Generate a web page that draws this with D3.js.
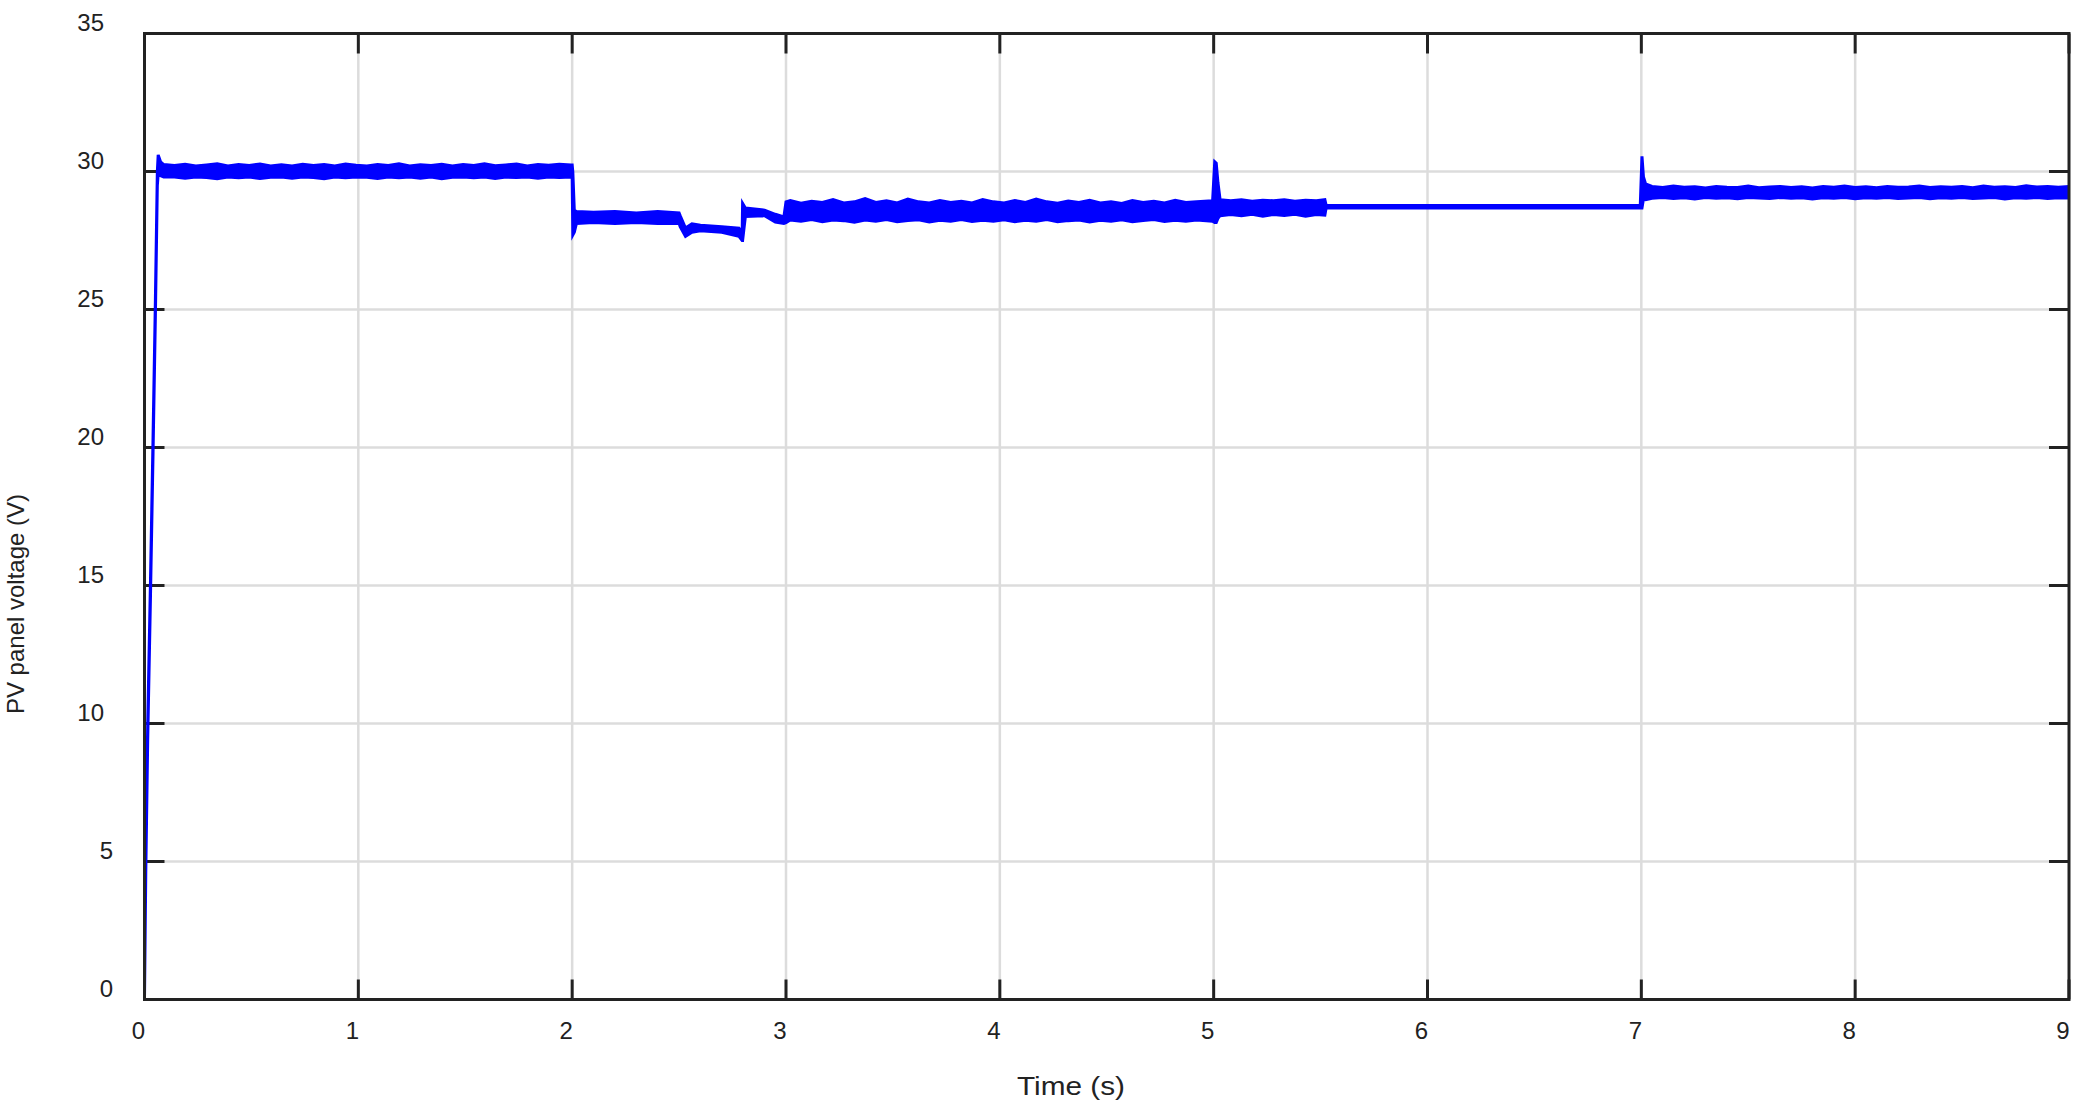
<!DOCTYPE html>
<html>
<head>
<meta charset="utf-8">
<script src="https://cdn.jsdelivr.net/npm/d3@7"></script>
<style>
  html, body { margin: 0; padding: 0; background: #fff; }
  svg { display: block; }
  text { font-family: "Liberation Sans", Arial, sans-serif; fill: #222; }
</style>
</head>
<body>
<svg id="chart" width="2086" height="1115"></svg>
<script>
// ---- data ----
const xTicks = [0, 1, 2, 3, 4, 5, 6, 7, 8, 9];
const yTicks = [0, 5, 10, 15, 20, 25, 30, 35];
const xTitle = "Time (s)";
const yTitle = "PV panel voltage (V)";

// time (s) and the upper / lower envelope of the noisy PV panel voltage trace (V)
const time = [
  0, 0.006, 0.015, 0.028, 0.040, 0.051, 0.060, 0.064, 0.075, 0.09,
  0.14, 0.19, 0.24, 0.29, 0.34, 0.39, 0.44, 0.49, 0.54, 0.59, 0.64, 0.69, 0.74, 0.79, 0.84, 0.89, 0.94, 0.99,
  1.04, 1.09, 1.14, 1.19, 1.24, 1.29, 1.34, 1.39, 1.44, 1.49, 1.54, 1.59, 1.64, 1.69, 1.74, 1.79, 1.84, 1.89, 1.94, 1.995,
  2.0, 2.003, 2.01, 2.02, 2.1, 2.2, 2.3, 2.4, 2.5,
  2.505, 2.53, 2.56, 2.6, 2.7, 2.78, 2.795,
  2.797, 2.81, 2.9, 2.95, 2.99,
  3.0, 3.02, 3.07, 3.12, 3.17, 3.22, 3.27, 3.32, 3.37, 3.42, 3.47, 3.52, 3.57, 3.62, 3.67, 3.72, 3.77, 3.82, 3.87, 3.92, 3.97,
  4.02, 4.07, 4.12, 4.17, 4.22, 4.27, 4.32, 4.37, 4.42, 4.47, 4.52, 4.57, 4.62, 4.67, 4.72, 4.77, 4.82, 4.87, 4.92, 4.995,
  5.005, 5.012, 5.02, 5.03, 5.08, 5.13, 5.18, 5.23, 5.28, 5.33, 5.38, 5.43, 5.48, 5.52,
  5.526, 6.0, 6.5, 6.995,
  7.003, 7.01, 7.02, 7.05, 7.1, 7.15, 7.2, 7.25, 7.3, 7.35, 7.4, 7.45, 7.5, 7.55, 7.6, 7.65, 7.7, 7.75, 7.8, 7.85,
  7.9, 7.95, 8.0, 8.05, 8.1, 8.15, 8.2, 8.25, 8.3, 8.35, 8.4, 8.45, 8.5, 8.55, 8.6, 8.65, 8.7, 8.75, 8.8, 8.85, 8.9, 8.95, 9.0
];
const upper = [
  0, 5.2, 10.0, 15.2, 20.4, 25.4, 30.0, 30.6, 30.35, 30.25,
  30.22, 30.26, 30.2, 30.24, 30.28, 30.2, 30.25, 30.22, 30.27, 30.2, 30.24, 30.2, 30.26, 30.22, 30.25, 30.2, 30.27, 30.23,
  30.2, 30.25, 30.22, 30.28, 30.2, 30.24, 30.22, 30.26, 30.2, 30.25, 30.22, 30.28, 30.21, 30.24, 30.27, 30.2, 30.25, 30.23, 30.26, 30.24,
  30.24, 30.0, 28.6, 28.55, 28.52, 28.55, 28.5, 28.55, 28.5,
  28.4, 27.95, 28.1, 28.05, 28.0, 27.95, 27.75,
  28.85, 28.68, 28.6, 28.45, 28.35,
  28.9, 28.95, 28.85, 28.92, 28.88, 28.98, 28.86, 28.9, 29.02, 28.88, 28.94, 28.86, 29.0, 28.9, 28.86, 28.95, 28.88, 28.92, 28.86, 28.98, 28.9,
  28.86, 28.95, 28.88, 29.0, 28.9, 28.85, 28.93, 28.88, 28.96, 28.86, 28.9, 28.84, 28.95, 28.88, 28.92, 28.86, 28.96, 28.88, 28.9, 28.94,
  30.35, 30.3, 29.6, 28.98, 28.94, 28.98, 28.92, 28.96, 28.94, 28.98, 28.92, 28.96, 28.94, 28.98,
  28.77, 28.77, 28.77, 28.77,
  30.55, 29.8, 29.55, 29.46, 29.42, 29.47, 29.43, 29.45, 29.4, 29.46, 29.43, 29.42, 29.47, 29.41, 29.44, 29.46, 29.42, 29.45, 29.4, 29.46,
  29.43, 29.47, 29.42, 29.45, 29.41, 29.46, 29.43, 29.44, 29.47, 29.42, 29.45, 29.43, 29.46, 29.41, 29.47, 29.43, 29.45, 29.42, 29.48, 29.44, 29.46, 29.43, 29.46
];
const lower = [
  0, 4.6, 9.4, 14.6, 19.8, 24.8, 29.5, 29.9, 29.85, 29.8,
  29.8, 29.76, 29.8, 29.78, 29.74, 29.8, 29.77, 29.8, 29.75, 29.79, 29.8, 29.76, 29.8, 29.78, 29.74, 29.8, 29.77, 29.8,
  29.79, 29.75, 29.8, 29.77, 29.8, 29.76, 29.8, 29.74, 29.79, 29.8, 29.77, 29.8, 29.75, 29.8, 29.78, 29.8, 29.76, 29.8, 29.78, 29.8,
  29.8, 27.7, 27.8, 28.12, 28.15, 28.12, 28.15, 28.12, 28.12,
  28.0, 27.65, 27.8, 27.85, 27.8, 27.65, 27.5,
  27.5, 28.37, 28.4, 28.17, 28.12,
  28.15, 28.24, 28.2, 28.26, 28.18, 28.24, 28.22, 28.16, 28.24, 28.2, 28.26, 28.18, 28.22, 28.25, 28.17, 28.23, 28.2, 28.26, 28.19, 28.23, 28.2,
  28.25, 28.18, 28.23, 28.2, 28.26, 28.18, 28.22, 28.24, 28.17, 28.23, 28.2, 28.25, 28.18, 28.22, 28.26, 28.19, 28.23, 28.2, 28.24, 28.2,
  28.15, 28.15, 28.3, 28.4, 28.44, 28.4, 28.45, 28.38, 28.44, 28.41, 28.45, 28.38, 28.44, 28.42,
  28.68, 28.68, 28.68, 28.68,
  28.68, 29.0, 28.98, 29.03, 29.06, 29.02, 29.05, 29.0, 29.06, 29.03, 29.05, 29.01, 29.06, 29.04, 29.02, 29.06, 29.03, 29.05, 29.0, 29.05,
  29.03, 29.06, 29.01, 29.05, 29.03, 29.06, 29.02, 29.04, 29.06, 29.01, 29.05, 29.03, 29.06, 29.02, 29.04, 29.06, 29.0, 29.05, 29.03, 29.06, 29.02, 29.05, 29.04
];

// ---- layout ----
const plot = { left: 144.5, right: 2069, top: 33.5, bottom: 999.5 };
const ink = "#222";
const lineBlue = "#0000ff";

const svg = d3.select("#chart");
const x = d3.scaleLinear().domain([0, 9]).range([plot.left, plot.right]);
const y = d3.scaleLinear().domain([0, 35]).range([plot.bottom, plot.top]);

// gridlines
const grid = svg.append("g").attr("stroke", "#dcdcdc").attr("stroke-width", 2.5);
grid.selectAll("line.gx").data(xTicks.filter(d => d > 0 && d < 9)).join("line")
  .attr("x1", d => x(d)).attr("x2", d => x(d))
  .attr("y1", plot.top).attr("y2", plot.bottom);
grid.selectAll("line.gy").data(yTicks.filter(d => d > 0 && d < 35)).join("line")
  .attr("y1", d => y(d)).attr("y2", d => y(d))
  .attr("x1", plot.left).attr("x2", plot.right);

// inward tick marks on all four sides
const tickLen = 20;
const ticks = svg.append("g").attr("stroke", ink).attr("stroke-width", 3);
xTicks.forEach(d => {
  ticks.append("line").attr("x1", x(d)).attr("x2", x(d)).attr("y1", plot.bottom).attr("y2", plot.bottom - tickLen);
  ticks.append("line").attr("x1", x(d)).attr("x2", x(d)).attr("y1", plot.top).attr("y2", plot.top + tickLen);
});
yTicks.forEach(d => {
  ticks.append("line").attr("y1", y(d)).attr("y2", y(d)).attr("x1", plot.left).attr("x2", plot.left + tickLen);
  ticks.append("line").attr("y1", y(d)).attr("y2", y(d)).attr("x1", plot.right).attr("x2", plot.right - tickLen);
});

// data trace (envelope band of the noisy signal)
svg.append("clipPath").attr("id", "clip").append("rect")
  .attr("x", plot.left).attr("y", plot.top)
  .attr("width", plot.right - plot.left).attr("height", plot.bottom - plot.top);

const pts = time.map((t, i) => ({ t, hi: upper[i], lo: lower[i] }));
const area = d3.area().x(d => x(d.t)).y0(d => y(d.lo)).y1(d => y(d.hi));
svg.append("path").datum(pts)
  .attr("clip-path", "url(#clip)")
  .attr("d", area)
  .attr("fill", lineBlue)
  .attr("stroke", lineBlue)
  .attr("stroke-width", 3)
  .attr("stroke-linejoin", "miter");

// frame
svg.append("rect")
  .attr("x", plot.left).attr("y", plot.top)
  .attr("width", plot.right - plot.left).attr("height", plot.bottom - plot.top)
  .attr("fill", "none").attr("stroke", ink).attr("stroke-width", 3);

// tick labels
svg.append("g").selectAll("text").data(xTicks).join("text")
  .attr("x", d => x(d) - 6).attr("y", 1039)
  .attr("text-anchor", "middle").attr("font-size", 24)
  .text(d => d);
svg.append("g").selectAll("text").data(yTicks).join("text")
  .attr("x", d => String(d).length > 1 ? 104 : 113)
  .attr("y", d => y(d) - 3)
  .attr("text-anchor", "end").attr("font-size", 24)
  .text(d => d);

// axis titles
svg.append("text")
  .attr("x", 1071).attr("y", 1095)
  .attr("text-anchor", "middle").attr("font-size", 25)
  .attr("textLength", 108).attr("lengthAdjust", "spacingAndGlyphs")
  .text(xTitle);
svg.append("text")
  .attr("transform", "translate(24,604) rotate(-90)")
  .attr("text-anchor", "middle").attr("font-size", 24)
  .text(yTitle);
</script>
</body>
</html>
